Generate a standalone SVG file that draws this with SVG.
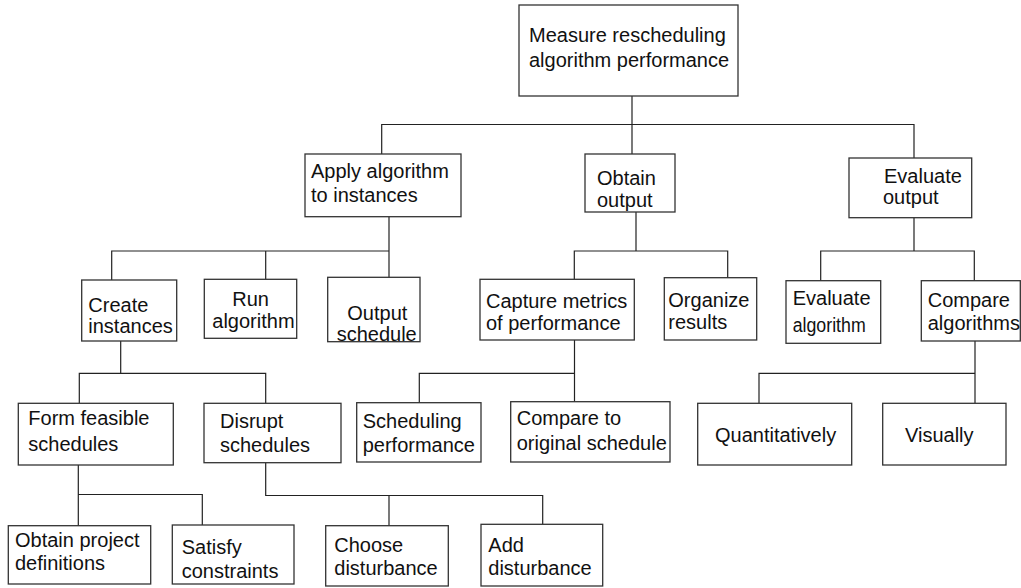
<svg xmlns="http://www.w3.org/2000/svg" width="1021" height="588" viewBox="0 0 1021 588">
<style>
.box{fill:#fff;stroke:#333;stroke-width:1.3}
.c{fill:none;stroke:#222;stroke-width:1.2}
text{font-family:"Liberation Sans",Arial,sans-serif;font-size:20px;fill:#111}
</style>
<rect width="1021" height="588" fill="#fff"/>
<g id="connectors">
<path class="c" d="M632,96V154M381.7,154V124.5H914V158"/>
<path class="c" d="M389,217V277M111.7,280V251H389M265.7,251V279"/>
<path class="c" d="M636,212V251M574.3,279V251H727.7V278"/>
<path class="c" d="M914,218V251M820.7,281V251H974.3V281"/>
<path class="c" d="M120.7,341V373.3M79.3,403V373.3H265.7V403"/>
<path class="c" d="M574.5,340V402M419.3,403V373.3H574.5"/>
<path class="c" d="M975,341V403M759,403V373.3H975"/>
<path class="c" d="M78.3,465V526M78.3,494.5H202.3V525"/>
<path class="c" d="M265.7,463V495.5H542.7V524.3M389,495.5V525.7"/>
</g>
<g id="root"><rect class="box" x="519" y="5" width="219" height="91"/><text x="529" y="42">Measure rescheduling</text><text x="529" y="67">algorithm performance</text></g>
<g id="apply"><rect class="box" x="305" y="154" width="156" height="62.7"/><text x="311" y="178">Apply algorithm</text><text x="311" y="201.5">to instances</text></g>
<g id="obtain"><rect class="box" x="585" y="154" width="90" height="58"/><text x="597" y="185">Obtain</text><text x="597" y="207">output</text></g>
<g id="evaluate"><rect class="box" x="849" y="158" width="122.7" height="59.7"/><text x="884" y="183">Evaluate</text><text x="883" y="204">output</text></g>
<g id="create"><rect class="box" x="81.7" y="280" width="95" height="61"/><text x="88.3" y="311.7">Create</text><text x="88.3" y="333.3">instances</text></g>
<g id="run"><rect class="box" x="204.3" y="279.3" width="92.4" height="59"/><text x="232.3" y="305.5">Run</text><text x="212.3" y="327.5">algorithm</text></g>
<g id="output-schedule"><rect class="box" x="327.7" y="277.3" width="92.3" height="64.4"/><text x="347.3" y="320">Output</text><text x="336.7" y="341">schedule</text></g>
<g id="capture"><rect class="box" x="480" y="279.3" width="154.3" height="60.7"/><text x="486" y="308.3">Capture metrics</text><text x="486" y="330">of performance</text></g>
<g id="organize"><rect class="box" x="664.3" y="277.7" width="92.4" height="62.3"/><text x="668.3" y="306.7">Organize</text><text x="668.3" y="329.3">results</text></g>
<g id="evaluate-algorithm"><rect class="box" x="786" y="280.7" width="94.7" height="62.6"/><text x="792.7" y="305">Evaluate</text><text x="792.7" y="331.7" textLength="73" lengthAdjust="spacingAndGlyphs">algorithm</text></g>
<g id="compare-algorithms"><rect class="box" x="921.3" y="280.7" width="99" height="60.3"/><text x="927.7" y="306.7">Compare</text><text x="927.7" y="330">algorithms</text></g>
<g id="form"><rect class="box" x="18.3" y="403.3" width="155" height="61.7"/><text x="28.3" y="425">Form feasible</text><text x="28.3" y="450.7">schedules</text></g>
<g id="disrupt"><rect class="box" x="204" y="403.3" width="137" height="59.4"/><text x="220" y="428.3">Disrupt</text><text x="220" y="451.7">schedules</text></g>
<g id="scheduling"><rect class="box" x="356.7" y="402.7" width="124.3" height="59.3"/><text x="362.7" y="428.3">Scheduling</text><text x="362.7" y="451.7">performance</text></g>
<g id="compare-to"><rect class="box" x="510.7" y="401.7" width="159.3" height="60.3"/><text x="516.7" y="425">Compare to</text><text x="516.7" y="450">original schedule</text></g>
<g id="quantitatively"><rect class="box" x="697.7" y="403.3" width="154" height="61.7"/><text x="715" y="441.7">Quantitatively</text></g>
<g id="visually"><rect class="box" x="882.7" y="403.3" width="123.3" height="61.7"/><text x="905" y="441.7">Visually</text></g>
<g id="obtain-project"><rect class="box" x="8.3" y="525.7" width="142.4" height="58.3"/><text x="15" y="547.3">Obtain project</text><text x="15" y="570">definitions</text></g>
<g id="satisfy"><rect class="box" x="172.3" y="525" width="121.7" height="59"/><text x="181.7" y="554">Satisfy</text><text x="181.7" y="578.3">constraints</text></g>
<g id="choose"><rect class="box" x="325.7" y="525.7" width="122.6" height="60.3"/><text x="334.3" y="551.7">Choose</text><text x="334.3" y="575">disturbance</text></g>
<g id="add"><rect class="box" x="481" y="524.3" width="121.7" height="61.7"/><text x="488.3" y="551.7">Add</text><text x="488.3" y="575">disturbance</text></g>
</svg>
